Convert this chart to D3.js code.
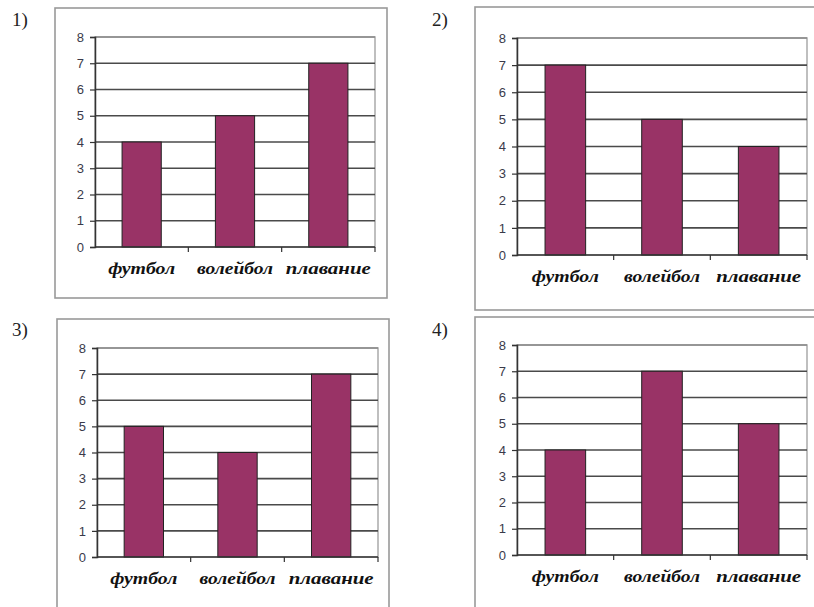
<!DOCTYPE html>
<html>
<head>
<meta charset="utf-8">
<script src="https://cdn.jsdelivr.net/npm/d3@7"></script>
<style>
  html, body { margin: 0; padding: 0; background: #fff; }
  svg { display: block; }
</style>
</head>
<body>
<svg id="chart" width="814" height="607"></svg>
<script>
// ---- data ----
const categories = ["футбол", "волейбол", "плавание"];
const values1 = [4, 5, 7];
const values2 = [7, 5, 4];
const values3 = [5, 4, 7];
const values4 = [4, 7, 5];
const yTickValues = [0, 1, 2, 3, 4, 5, 6, 7, 8];
const panelLabels = ["1)", "2)", "3)", "4)"];
const seriesList = [values1, values2, values3, values4];

// ---- layout ----
const layouts = [
  { label: [12, 26], frame: [55, 8, 332, 290], plot: [95, 375, 37, 247], labelW: [67, 76, 85] },
  { label: [432, 26], frame: [475, 7, 345, 303], plot: [517, 807, 38, 255], labelW: [67, 76, 85] },
  { label: [12, 336], frame: [57, 319, 332, 295], plot: [97, 378, 348, 557], labelW: [67, 76, 85] },
  { label: [432, 336], frame: [475, 317, 345, 300], plot: [517, 807, 345, 555], labelW: [67, 76, 85] }
];

const svg = d3.select("#chart");

seriesList.forEach((vals, i) => {
  const L = layouts[i];
  const g = svg.append("g");

  g.append("text")
    .attr("x", L.label[0]).attr("y", L.label[1])
    .attr("font-family", "'Liberation Serif', 'Times New Roman', serif")
    .attr("font-size", 19)
    .attr("fill", "#222")
    .text(panelLabels[i]);

  g.append("rect")
    .attr("x", L.frame[0]).attr("y", L.frame[1])
    .attr("width", L.frame[2]).attr("height", L.frame[3])
    .attr("fill", "none").attr("stroke", "#999").attr("stroke-width", 1.6);

  const [x0, x1, yTop, yBot] = L.plot;
  const x = d3.scaleBand().domain(categories).range([x0, x1]).paddingInner(0.58).paddingOuter(0.29);
  const xb = d3.scaleBand().domain(categories).range([x0, x1]);
  const y = d3.scaleLinear().domain([0, 8]).range([yBot, yTop]);

  g.append("rect")
    .attr("x", x0).attr("y", yTop).attr("width", x1 - x0).attr("height", yBot - yTop)
    .attr("fill", "#fff").attr("stroke", "#aaa").attr("stroke-width", 1.5);

  g.append("g").selectAll("line").data(yTickValues.filter(d => d > 0)).join("line")
    .attr("x1", x0).attr("x2", x1)
    .attr("y1", d => y(d)).attr("y2", d => y(d))
    .attr("stroke", d => d === 8 ? "#888" : "#4a4a4a").attr("stroke-width", 1.6);

  g.append("g").selectAll("rect").data(vals).join("rect")
    .attr("x", (d, j) => x(categories[j]))
    .attr("width", x.bandwidth())
    .attr("y", d => y(d))
    .attr("height", d => yBot - y(d))
    .attr("fill", "#993366")
    .attr("stroke", "#222").attr("stroke-width", 1);

  const yAxis = d3.axisLeft(y).tickValues(yTickValues).tickSize(5).tickPadding(6).tickFormat(d3.format("d"));
  const ya = g.append("g").attr("transform", `translate(${x0},0)`).call(yAxis);
  ya.select(".domain").attr("stroke", "#333").attr("stroke-width", 1.5);
  ya.selectAll(".tick line").attr("stroke", "#333").attr("stroke-width", 1.2);
  ya.selectAll(".tick text")
    .attr("font-family", "'Liberation Sans', Arial, sans-serif")
    .attr("font-size", 13)
    .attr("fill", "#3a3a4a");

  g.append("line").attr("x1", x0).attr("x2", x1).attr("y1", yBot).attr("y2", yBot)
    .attr("stroke", "#333").attr("stroke-width", 1.5);
  const sepTicks = categories.map(c => xb(c)).concat([x1]).slice(1);
  g.append("g").selectAll("line").data(sepTicks).join("line")
    .attr("x1", d => d).attr("x2", d => d)
    .attr("y1", yBot).attr("y2", yBot + 5)
    .attr("stroke", "#333").attr("stroke-width", 1.2);

  g.append("g").selectAll("text").data(categories).join("text")
    .attr("x", c => xb(c) + xb.bandwidth() / 2)
    .attr("y", yBot + 27)
    .attr("text-anchor", "middle")
    .attr("font-family", "'Liberation Serif', 'Times New Roman', serif")
    .attr("font-style", "italic").attr("font-weight", "bold")
    .attr("font-size", 16)
    .attr("textLength", (c, j) => L.labelW[j])
    .attr("lengthAdjust", "spacingAndGlyphs")
    .attr("fill", "#111")
    .text(c => c);
});
</script>
</body>
</html>
